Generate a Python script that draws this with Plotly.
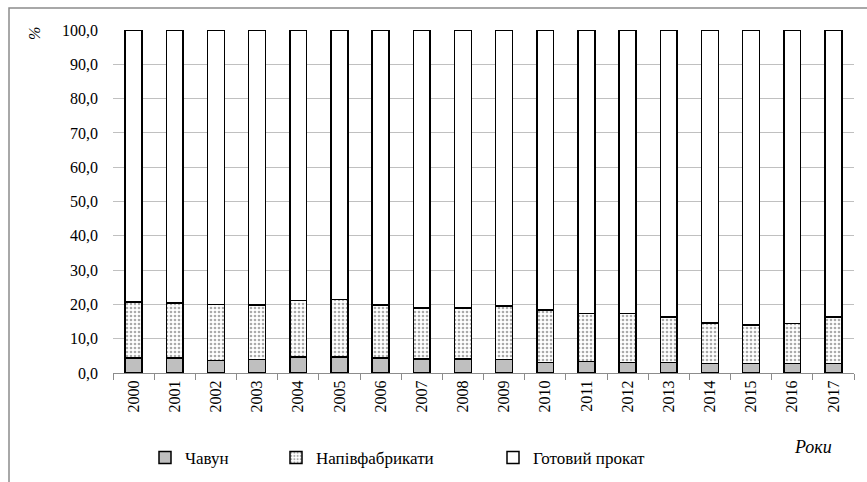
import plotly.graph_objects as go

# Share of metallurgical output by type, %
years = [str(y) for y in range(2000, 2018)]
chavun = [4.4, 4.4, 3.6, 3.9, 4.7, 4.7, 4.4, 4.1, 4.1, 3.9, 3.0, 3.4, 3.0, 3.0, 2.7, 2.7, 2.7, 2.7]
napiv = [16.3, 16.0, 16.3, 15.9, 16.5, 16.8, 15.4, 14.9, 14.9, 15.6, 15.3, 13.9, 14.3, 13.3, 11.9, 11.3, 11.7, 13.6]
gotovyi = [round(100 - a - b, 1) for a, b in zip(chavun, napiv)]

FONT = "Times New Roman, Liberation Serif, serif"
W, H = 867, 482
ML, MR, MT, MB = 113, 13, 30, 109
pw, ph = W - ML - MR, H - MT - MB

def px_x(x):
    return (x - ML) / pw

def px_y(y):
    return (H - MB - y) / ph

outline = dict(color="#000000", width=1.5)

fig = go.Figure()
fig.add_trace(go.Bar(
    x=years, y=chavun, name="Чавун",
    marker=dict(color="#bfbfbf", line=outline),
    showlegend=True,
))
fig.add_trace(go.Bar(
    x=years, y=napiv, name="Напівфабрикати",
    marker=dict(color="#ffffff", line=outline,
                pattern=dict(shape=".", fgcolor="#555555", bgcolor="#ffffff",
                             size=4, solidity=0.35)),
    legend="legend2",
))
fig.add_trace(go.Bar(
    x=years, y=gotovyi, name="Готовий прокат",
    marker=dict(color="#ffffff", line=outline),
    legend="legend3",
))

def legend_at(x, y):
    return dict(orientation="h", yanchor="middle", xanchor="left",
                xref="container", yref="container",
                x=x / W, y=1 - y / H,
                font=dict(family=FONT, size=17, color="#000000"),
                bgcolor="rgba(0,0,0,0)", itemwidth=30)

fig.update_layout(
    width=W, height=H,
    barmode="stack",
    bargap=0.59,
    separators=", ",
    showlegend=True,
    paper_bgcolor="#ffffff",
    plot_bgcolor="#ffffff",
    margin=dict(l=ML, r=MR, t=MT, b=MB, autoexpand=False),
    font=dict(family=FONT, size=16, color="#000000"),
    legend=legend_at(145, 458),
    legend2=legend_at(276, 458),
    legend3=legend_at(493, 458),
    xaxis=dict(
        tickangle=-90,
        tickson="boundaries",
        ticks="outside",
        ticklen=6,
        tickcolor="#8c8c8c",
        showline=True,
        linecolor="#8c8c8c",
        linewidth=1,
        showgrid=False,
        tickfont=dict(family=FONT, size=16, color="#000000"),
    ),
    yaxis=dict(
        range=[0, 100],
        dtick=10,
        tickformat=".1f",
        showgrid=True,
        gridcolor="#c0c0c0",
        gridwidth=1,
        zeroline=False,
        showline=False,
        ticks="",
        ticklabelstandoff=14,
        tickfont=dict(family=FONT, size=16, color="#000000"),
    ),
    annotations=[
        dict(text="<i>%</i>", xref="paper", yref="paper",
             x=px_x(35), y=px_y(34), xanchor="center", yanchor="middle",
             showarrow=False, textangle=-90,
             font=dict(family=FONT, size=16, color="#000000")),
        dict(text="<i>Роки</i>", xref="paper", yref="paper",
             x=px_x(813), y=px_y(447), xanchor="center", yanchor="middle",
             showarrow=False,
             font=dict(family=FONT, size=18, color="#000000")),
    ],
    shapes=[
        dict(type="rect", xref="paper", yref="paper",
             x0=px_x(9), x1=px_x(868), y0=px_y(490), y1=px_y(8),
             line=dict(color="#8c8c8c", width=1.5), layer="below"),
    ],
)

# drop the default body margin so the figure sits at the page origin
fig.write_html("out.html", config={"displayModeBar": False},
               post_script="document.body.style.margin='0';")
